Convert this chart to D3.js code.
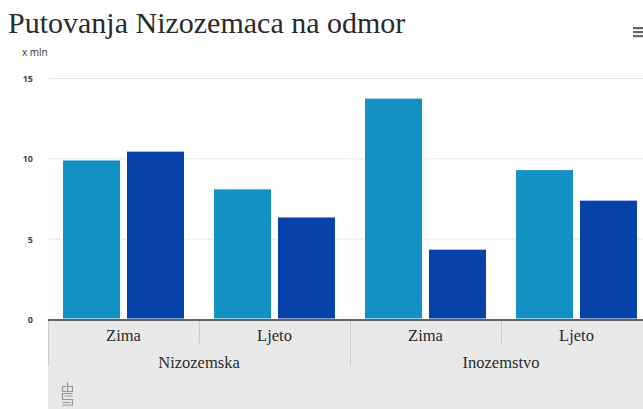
<!DOCTYPE html>
<meta charset="utf-8">
<style>* {padding:0; margin:0; border:0; outline:0;} body {background:#fff;}</style>
<body>
<script src="https://d3js.org/d3.v7.min.js"></script>
<script>
// values (x mln trips)
groups = ["Nizozemska", "Inozemstvo"]
seasons = ["Zima", "Ljeto"]
seriesNames = ["A", "B"]
seriesA = [9.9, 8.1, 13.75, 9.3]
seriesB = [10.45, 6.35, 4.35, 7.4]
yTicks = [0, 5, 10, 15]
colors = ["#1391c5", "#0742a9"]

width = 643
height = 409

svg = d3.select('body').append('svg')
  .attr('width', width)
  .attr('height', height)
  .style('font-family', 'Liberation Serif, serif')

// title + menu icon
svg.append('text')
  .attr('x', 8).attr('y', 33)
  .attr('font-size', 30)
  .attr('fill', '#2a2a2a')
  .text('Putovanja Nizozemaca na odmor')

d3.range(3).forEach(function(i){
  svg.append('rect')
    .attr('x', 633).attr('y', 27 + i * 4)
    .attr('width', 10).attr('height', 2.2)
    .attr('fill', '#666')
})

left = 48
y = d3.scaleLinear().domain([0, 15]).range([319, 78])

gx = d3.scaleBand().domain(groups).range([left, left + 604])
sx = d3.scaleBand().domain(seasons).range([0, gx.bandwidth()])
bx = d3.scaleBand().domain(seriesNames).range([0, sx.bandwidth()])
  .paddingInner(0.094).paddingOuter(0.227)

// grid + y labels
svg.append('text')
  .attr('x', 22).attr('y', 56)
  .attr('font-family', 'Open Sans, sans-serif')
  .attr('font-size', 10)
  .attr('fill', '#333')
  .text('x mln')

svg.selectAll('.grid').data(yTicks.filter(function(d){return d > 0}))
  .enter().append('line')
  .attr('x1', left + 1).attr('x2', width)
  .attr('y1', function(d){return y(d) + 0.5})
  .attr('y2', function(d){return y(d) + 0.5})
  .attr('stroke', '#e6e6e6')

svg.selectAll('.ylab').data(yTicks)
  .enter().append('text')
  .attr('x', 33)
  .attr('y', function(d){return y(d) + 4})
  .attr('text-anchor', 'end')
  .attr('font-family', 'Open Sans, sans-serif')
  .attr('font-weight', 'bold')
  .attr('font-size', 9)
  .attr('fill', '#444')
  .text(function(d){return d})

// bars
rows = []
groups.forEach(function(g, gi){
  seasons.forEach(function(s, si){
    var k = gi * 2 + si
    rows.push({g: g, s: s, vals: [seriesA[k], seriesB[k]]})
  })
})

cell = svg.selectAll('.cell').data(rows)
  .enter().append('g')
  .attr('transform', function(d){return 'translate(' + (gx(d.g) + sx(d.s)) + ',0)'})

cell.selectAll('rect')
  .data(function(d){return d.vals.map(function(v, i){return {v: v, i: i}})})
  .enter().append('rect')
  .attr('x', function(d){return bx(seriesNames[d.i])})
  .attr('y', function(d){return y(d.v)})
  .attr('width', bx.bandwidth())
  .attr('height', function(d){return y(0) - y(d.v)})
  .attr('fill', function(d){return colors[d.i]})
  .attr('stroke', '#fff')
  .attr('stroke-width', 1)

// category axis panel
svg.append('rect')
  .attr('x', left).attr('y', 320)
  .attr('width', width - left).attr('height', height - 320)
  .attr('fill', '#e9e9e9')

svg.append('line')
  .attr('x1', left).attr('x2', width)
  .attr('y1', 320).attr('y2', 320)
  .attr('stroke', '#666').attr('stroke-width', 2)

// separators
svg.selectAll('.sepS').data(rows.filter(function(d){return d.s == 'Ljeto'}))
  .enter().append('line')
  .attr('x1', function(d){return gx(d.g) + sx(d.s) + 0.5})
  .attr('x2', function(d){return gx(d.g) + sx(d.s) + 0.5})
  .attr('y1', 321).attr('y2', 343)
  .attr('stroke', '#ccc')

svg.selectAll('.sepG').data(groups)
  .enter().append('line')
  .attr('x1', function(d){return gx(d) + 0.5})
  .attr('x2', function(d){return gx(d) + 0.5})
  .attr('y1', 321).attr('y2', 366)
  .attr('stroke', '#ccc')

svg.selectAll('.slab').data(rows)
  .enter().append('text')
  .attr('x', function(d){return gx(d.g) + sx(d.s) + sx.bandwidth() / 2})
  .attr('y', 341)
  .attr('text-anchor', 'middle')
  .attr('font-size', 16.5)
  .attr('fill', '#2a2a2a')
  .text(function(d){return d.s})

svg.selectAll('.glab').data(groups)
  .enter().append('text')
  .attr('x', function(d){return gx(d) + gx.bandwidth() / 2})
  .attr('y', 368)
  .attr('text-anchor', 'middle')
  .attr('font-size', 16.5)
  .attr('fill', '#2a2a2a')
  .text(function(d){return d})

// small cbs logo
logo = svg.append('g')
  .attr('transform', 'translate(62,382)')
  .attr('fill', 'none')
  .attr('stroke', '#959595')
  .attr('stroke-width', 1.2)
// c + b
logo.append('path').attr('d', 'M4.5,4.5 H0.5 V9.5 H4.5 M5.5,0 V9.5 H10.5 V4.5 H5.5')
// squared S, double stroke
logo.append('path').attr('d', 'M10.5,11.5 H0.5 V17.5 H10.5 V23 H0.5 M2.5,14 H10.5 M0.5,20.5 H8.5')
</script>
